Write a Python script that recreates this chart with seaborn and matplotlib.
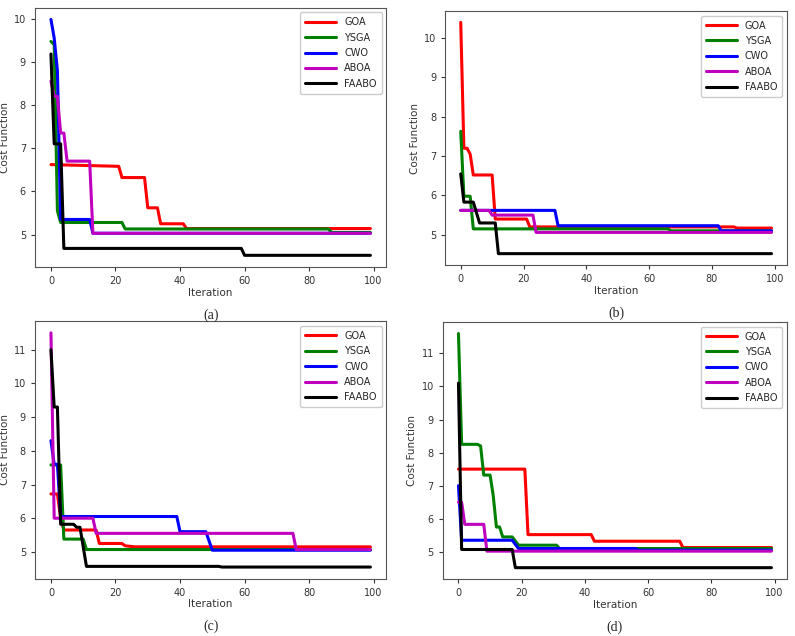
import matplotlib

matplotlib.use("Agg")
import matplotlib.pyplot as plt
import pandas as pd
import seaborn as sns

ALGOS = ["GOA", "YSGA", "CWO", "ABOA", "FAABO"]
COLORS = ["red", "green", "blue", "m", "black"]

# breakpoints (iteration, cost) per panel and algorithm
A_GOA = [(0, 6.62), (21, 6.58), (22, 6.32), (29, 6.32), (30, 5.62), (33, 5.62), (34, 5.25), (41, 5.25), (42, 5.14), (99, 5.14)]
A_YSGA = [(0, 9.47), (1, 9.4), (2, 5.55), (3, 5.28), (22, 5.28), (23, 5.13), (86, 5.13), (87, 5.05), (99, 5.05)]
A_CWO = [(0, 9.98), (1, 9.55), (2, 8.8), (3, 5.35), (12, 5.35), (13, 5.03), (99, 5.03)]
A_ABOA = [(0, 8.55), (1, 8.2), (2, 8.2), (3, 7.35), (4, 7.35), (5, 6.7), (12, 6.7), (13, 5.03), (99, 5.03)]
A_FAABO = [(0, 9.18), (1, 7.1), (3, 7.1), (4, 4.68), (59, 4.68), (60, 4.52), (99, 4.52)]

B_GOA = [(0, 10.4), (1, 7.2), (2, 7.2), (3, 7.05), (4, 6.52), (10, 6.52), (11, 5.4), (21, 5.4), (22, 5.2), (87, 5.2), (88, 5.17), (99, 5.17)]
B_YSGA = [(0, 7.63), (1, 5.98), (3, 5.98), (4, 5.15), (66, 5.15), (67, 5.1), (99, 5.1)]
B_CWO = [(0, 5.62), (30, 5.62), (31, 5.23), (82, 5.23), (83, 5.1), (99, 5.1)]
B_ABOA = [(0, 5.62), (9, 5.62), (10, 5.5), (23, 5.5), (24, 5.06), (99, 5.06)]
B_FAABO = [(0, 6.55), (1, 5.83), (4, 5.83), (6, 5.3), (11, 5.3), (12, 4.52), (99, 4.52)]

C_GOA = [(0, 6.72), (2, 6.72), (3, 6.0), (4, 5.65), (14, 5.65), (15, 5.25), (22, 5.25), (23, 5.18), (26, 5.15), (99, 5.15)]
C_YSGA = [(0, 7.58), (3, 7.58), (4, 5.38), (10, 5.38), (11, 5.07), (99, 5.07)]
C_CWO = [(0, 8.3), (1, 7.6), (2, 7.6), (3, 6.05), (39, 6.05), (40, 5.6), (48, 5.6), (50, 5.05), (99, 5.05)]
C_ABOA = [(0, 11.5), (1, 6.0), (13, 6.0), (14, 5.55), (75, 5.55), (76, 5.07), (99, 5.07)]
C_FAABO = [(0, 11.0), (1, 9.3), (2, 9.3), (3, 5.82), (7, 5.82), (8, 5.73), (9, 5.73), (11, 4.57), (52, 4.57), (53, 4.55), (99, 4.55)]

D_GOA = [(0, 7.5), (21, 7.5), (22, 5.52), (42, 5.52), (43, 5.32), (70, 5.32), (71, 5.13), (99, 5.13)]
D_YSGA = [(0, 11.6), (1, 8.25), (6, 8.25), (7, 8.2), (8, 7.32), (10, 7.32), (11, 6.7), (12, 5.75), (13, 5.75), (14, 5.45), (17, 5.45), (19, 5.2), (31, 5.2), (32, 5.1), (99, 5.1)]
D_CWO = [(0, 7.0), (1, 5.35), (17, 5.35), (19, 5.1), (56, 5.1), (57, 5.05), (99, 5.05)]
D_ABOA = [(0, 6.5), (1, 6.5), (2, 5.83), (8, 5.83), (9, 5.02), (99, 5.02)]
D_FAABO = [(0, 10.1), (1, 5.07), (17, 5.07), (18, 4.52), (99, 4.52)]

PANELS = [
    ("(a)", [A_GOA, A_YSGA, A_CWO, A_ABOA, A_FAABO], [0.044, 0.58, 0.442, 0.408], [5, 6, 7, 8, 9, 10]),
    ("(b)", [B_GOA, B_YSGA, B_CWO, B_ABOA, B_FAABO], [0.56, 0.583, 0.43, 0.40], [5, 6, 7, 8, 9, 10]),
    ("(c)", [C_GOA, C_YSGA, C_CWO, C_ABOA, C_FAABO], [0.044, 0.09, 0.442, 0.405], [5, 6, 7, 8, 9, 10, 11]),
    ("(d)", [D_GOA, D_YSGA, D_CWO, D_ABOA, D_FAABO], [0.557, 0.089, 0.433, 0.405], [5, 6, 7, 8, 9, 10, 11]),
]

sns.set_style("ticks")
fig = plt.figure(figsize=(7.95, 6.36), dpi=100)

for label, series, rect, yticks in PANELS:
    ax = fig.add_axes(rect)
    rows = []
    for name, pts in zip(ALGOS, series):
        for i, (it, val) in enumerate(pts):
            rows.append({"Iteration": it, "Cost": val, "Algo": name, "order": i})
    df = pd.DataFrame(rows)
    sns.lineplot(data=df, x="Iteration", y="Cost", hue="Algo", hue_order=ALGOS,
                 palette=COLORS, sort=False, estimator=None, linewidth=2.2, ax=ax)
    ax.set_xticks([0, 20, 40, 60, 80, 100])
    ax.set_yticks(yticks)
    ax.tick_params(labelsize=7, length=3, color="#333333", labelcolor="#333333")
    ax.set_xlabel("Iteration", fontsize=7.5, labelpad=1, color="#333333")
    ax.set_ylabel("Cost Function", fontsize=7.5, labelpad=3, color="#333333")
    for s in ax.spines.values():
        s.set_color("#555555")
    ax.legend(loc="upper right", fontsize=7, handlelength=3.2, borderpad=0.5,
              labelspacing=0.55, framealpha=1, edgecolor="#cccccc")
    x0, y0, w, h = rect
    fig.text(x0 + w / 2, y0 - 0.075, label, ha="center", va="center",
             fontsize=10, family="Liberation Serif")

fig.savefig("out.png", dpi=100)
